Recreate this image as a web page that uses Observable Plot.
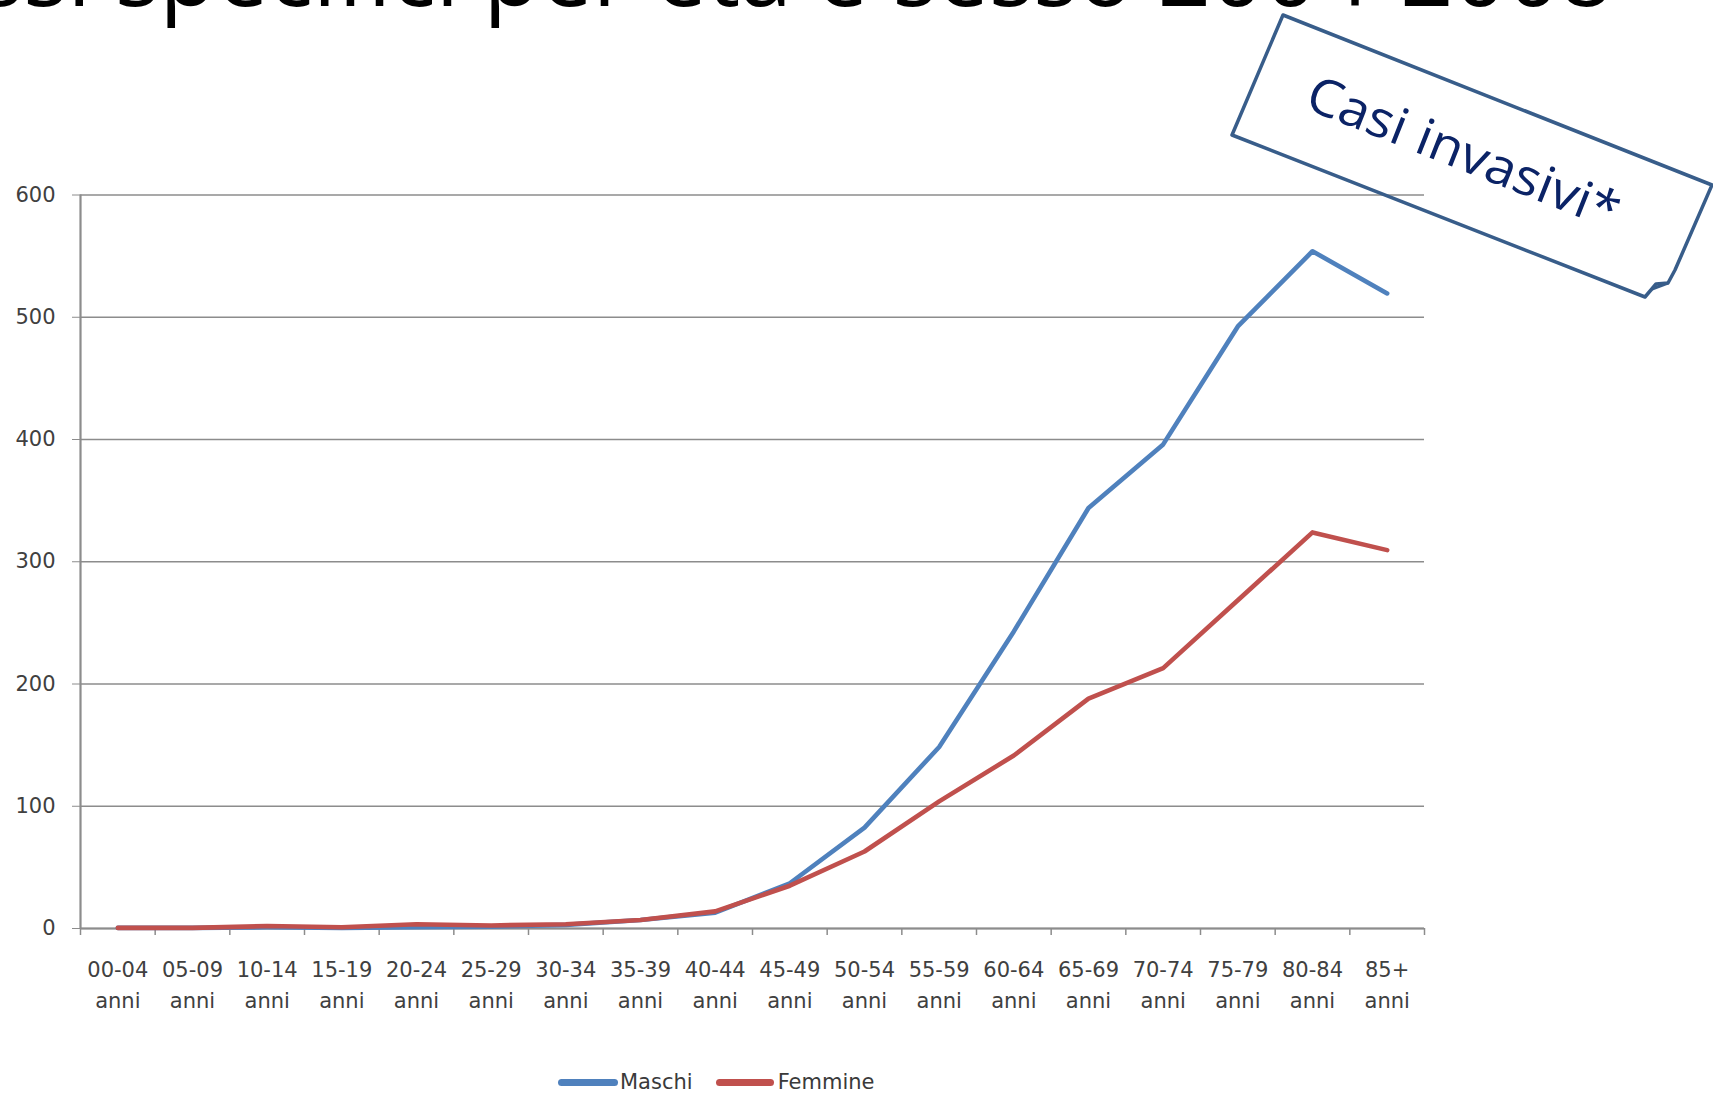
<!DOCTYPE html>
<html>
<head>
<meta charset="utf-8">
<script src="https://cdn.jsdelivr.net/npm/d3@7"></script>
<script src="https://cdn.jsdelivr.net/npm/@observablehq/plot@0.6"></script>
<style>
  html, body { margin: 0; padding: 0; background: #fff; }
  #wrap { position: relative; width: 1713px; height: 1093px; overflow: hidden; background: #fff; font-family: "DejaVu Sans", sans-serif; }
  #wrap > svg, #wrap > div { position: absolute; left: 0; top: 0; }
  #legend { display: flex; align-items: center; font-size: 21px; color: #3a3a3a; white-space: nowrap; }
  #legend .sw { display: inline-block; height: 7px; border-radius: 4px; }
</style>
</head>
<body>
<div id="wrap"></div>
<script>
// ---- data ----
const titleText = "Tassi specifici per età e sesso 2004-2008";
const annotationText = "Casi invasivi*";
const categories = ["00-04", "05-09", "10-14", "15-19", "20-24", "25-29", "30-34", "35-39", "40-44",
                    "45-49", "50-54", "55-59", "60-64", "65-69", "70-74", "75-79", "80-84", "85+"];
const categoryUnit = "anni";
const seriesNames = ["Maschi", "Femmine"];
const seriesColors = ["#4F81BD", "#C0504D"];
const maschi  = [0.5, 0.5, 1, 0.5, 1, 1.5, 3, 7, 13, 37, 82.5, 148.5, 243, 344, 396, 492.5, 554, 519.5];
const femmine = [0.5, 0.5, 2, 1, 3.5, 2.5, 3.5, 7, 14, 35, 63, 104, 141.5, 188, 213, 268.5, 324, 309.5];
const yTicks = [0, 100, 200, 300, 400, 500, 600];

const seriesValues = [maschi, femmine];
const rows = [];
seriesNames.forEach((name, k) => seriesValues[k].forEach((v, i) => rows.push({sex: name, idx: i, value: v})));

const wrap = document.getElementById("wrap");

// ---- chart ----
const chart = Plot.plot({
  width: 1713,
  height: 1093,
  marginTop: 194.5,
  marginBottom: 165,
  marginLeft: 80,
  marginRight: 289,
  style: {fontFamily: "DejaVu Sans, sans-serif", fontSize: "21px", background: "transparent", overflow: "visible"},
  x: {domain: [0, categories.length], axis: null},
  y: {domain: [0, 600], axis: null},
  color: {domain: seriesNames, range: seriesColors},
  marks: [
    Plot.gridY(yTicks, {stroke: "#8c8c8c", strokeOpacity: 1, strokeWidth: 1.3}),
    Plot.axisY(yTicks, {tickSize: 8, tickPadding: 17, stroke: "#8c8c8c", fill: "#404040", fontSize: 21, label: null, tickFormat: d => String(d)}),
    Plot.ruleX([0], {stroke: "#8c8c8c", strokeWidth: 2.2}),
    Plot.ruleY([0], {stroke: "#8c8c8c", strokeWidth: 2.2}),
    Plot.axisX(d3.range(categories.length + 1), {tickSize: 7, stroke: "#8c8c8c", strokeWidth: 1.5, label: null, tickFormat: () => ""}),
    Plot.text(categories, {x: (d, i) => i + 0.5, y: () => 0, text: d => d, dy: 48, lineAnchor: "bottom", fill: "#404040", fontSize: 21}),
    Plot.text(categories, {x: (d, i) => i + 0.5, y: () => 0, text: () => categoryUnit, dy: 79, lineAnchor: "bottom", fill: "#404040", fontSize: 21}),
    Plot.line(rows, {x: d => d.idx + 0.5, y: "value", z: "sex", stroke: "sex", strokeWidth: 4.6, strokeLinejoin: "round", strokeLinecap: "round"})
  ]
});
wrap.appendChild(chart);

// ---- title (cut off at the top, as in the slide) and annotation callout ----
const over = d3.select(wrap).append("svg")
  .attr("width", 1713).attr("height", 1093)
  .style("pointer-events", "none");

over.append("text")
  .attr("x", 1613).attr("y", 6)
  .attr("text-anchor", "end")
  .attr("font-family", "Open Sans, sans-serif")
  .attr("font-size", 93)
  .attr("fill", "#000")
  .text(titleText);

// callout box (slightly skewed by the slide's stretch), with a curled corner
over.append("path")
  .attr("d", "M1283,15 L1712,185 L1675,270 L1668,283 L1656,284 L1645,297 L1232,135 Z")
  .attr("fill", "none").attr("stroke", "#385D8A").attr("stroke-width", 3.5).attr("stroke-linejoin", "round");
over.append("path")
  .attr("d", "M1668,283 L1652,289")
  .attr("fill", "none").attr("stroke", "#385D8A").attr("stroke-width", 3);
over.append("text")
  .attr("transform", "translate(1464.6,150.2) rotate(21.6)")
  .attr("text-anchor", "middle")
  .attr("dominant-baseline", "central")
  .attr("font-family", "Open Sans, sans-serif")
  .attr("font-size", 51)
  .attr("fill", "#0b2366")
  .attr("textLength", 332)
  .attr("lengthAdjust", "spacingAndGlyphs")
  .text(annotationText);

// ---- legend ----
const legend = d3.select(wrap).append("div").attr("id", "legend")
  .style("left", "558px").style("top", "1070px");
const swWidths = [60, 58];
seriesNames.forEach((name, k) => {
  legend.append("span").attr("class", "sw")
    .style("width", swWidths[k] + "px")
    .style("background", seriesColors[k])
    .style("margin-left", k === 0 ? "0px" : "23px");
  legend.append("span").style("margin-left", k === 0 ? "2px" : "4px").text(name);
});
</script>
</body>
</html>
